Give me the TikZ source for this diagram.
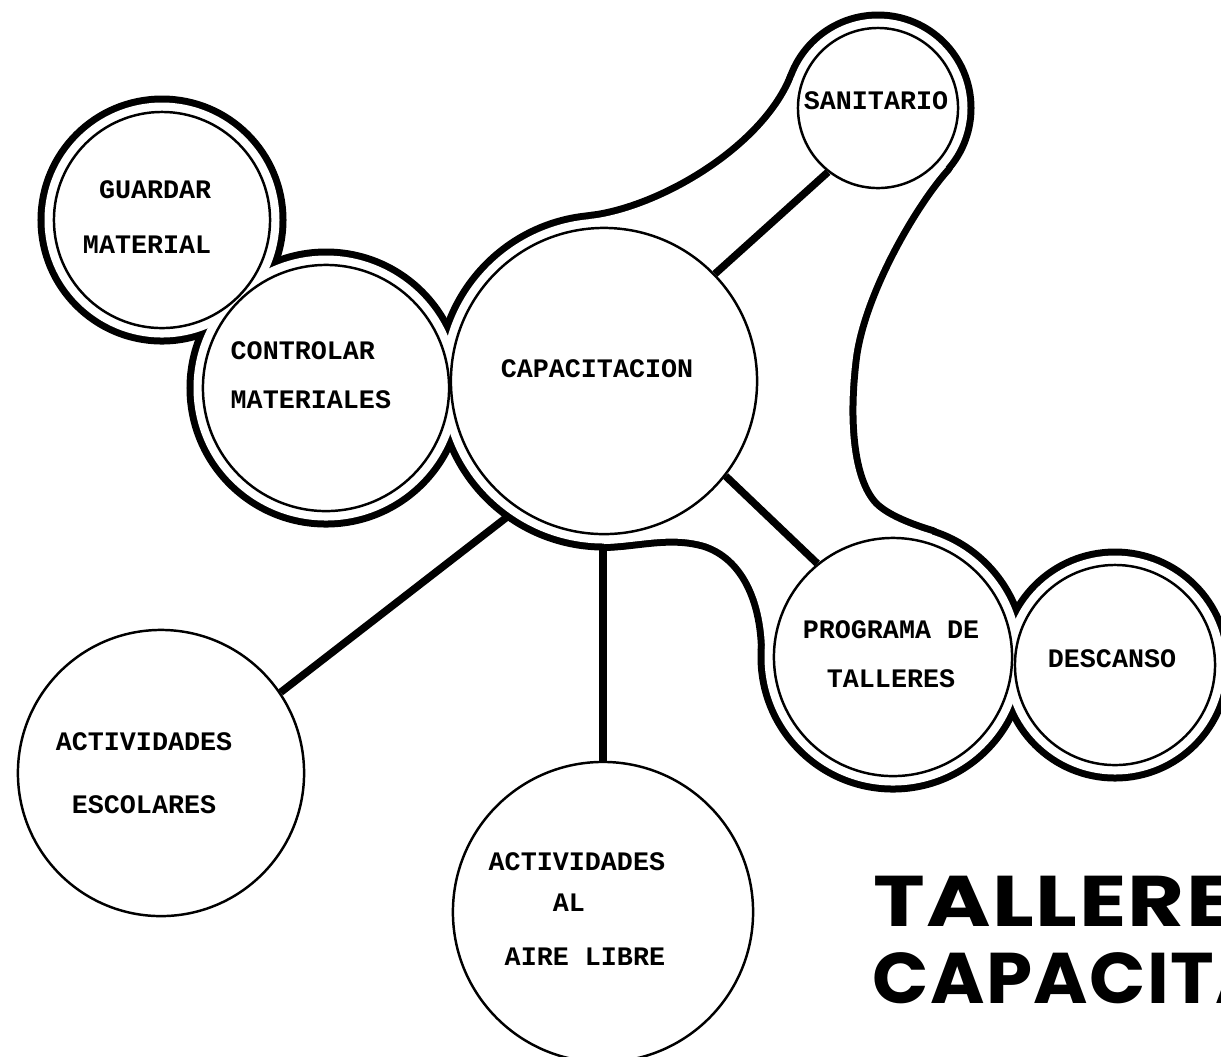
\documentclass[tikz,border=0pt]{standalone}
\usepackage{fontspec}
\usepackage{tikz}
\usetikzlibrary{positioning}
\newfontfamily\typefont{Liberation Mono}
\newfontfamily\titlefont{Poppins}

\begin{document}
\begin{tikzpicture}[x=0.01cm,y=-0.01cm,
  room/.style={circle,draw,line width=0.7pt,inner sep=0pt},
  tag/.style={inner sep=0pt,font=\typefont\bfseries\fontsize{7.6}{14}\selectfont},
  link/.style={line width=0.075cm},
  hull/.style={line width=0.14cm,line join=round},
  title/.style={inner sep=0pt,font=\titlefont\bfseries\fontsize{20.4}{24}\selectfont}]
\useasboundingbox (0,0) rectangle (1221,1056);
% Centres
\coordinate (gua0) at (162,220);
\coordinate (con0) at (326,388);
\coordinate (cap0) at (604,381);
\coordinate (san0) at (878,108);
\coordinate (pro0) at (893,657);
\coordinate (des0) at (1115,665);
% Hull (thick outline)
\draw[hull] (gua0) circle (117.5);
\draw[hull] (con0) circle (132.5);
\draw[hull] (cap0) circle (162.5);
\draw[hull] (san0) circle (89.5);
\draw[hull] (pro0) circle (128.5);
\draw[hull] (des0) circle (109.5);
\draw[hull] (604,544) -- (cap0) -- (590,219) .. controls (660,211) and (765,150) .. (794,77) -- (san0) -- (946,167) .. controls (915,201) and (862,290) .. (853,357) .. controls (845,420) and (850,480) .. (873,505) .. controls (885,518) and (912,528) .. (932,534) -- (pro0) -- (765,650) .. controls (764,600) and (745,556) .. (705,543) .. controls (670,533) and (640,543) .. (604,544) -- cycle; % bridge
\fill[white] (gua0) circle (117.5);
\fill[white] (con0) circle (132.5);
\fill[white] (cap0) circle (162.5);
\fill[white] (san0) circle (89.5);
\fill[white] (pro0) circle (128.5);
\fill[white] (des0) circle (109.5);
\fill[white] (604,544) -- (cap0) -- (590,219) .. controls (660,211) and (765,150) .. (794,77) -- (san0) -- (946,167) .. controls (915,201) and (862,290) .. (853,357) .. controls (845,420) and (850,480) .. (873,505) .. controls (885,518) and (912,528) .. (932,534) -- (pro0) -- (765,650) .. controls (764,600) and (745,556) .. (705,543) .. controls (670,533) and (640,543) .. (604,544) -- cycle; % bridge
% Rooms
\node[room,minimum size=2.16cm] (gua) at (gua0) {};
\node[room,minimum size=2.46cm] (con) at (con0) {};
\node[room,minimum size=3.06cm] (cap) at (cap0) {};
\node[room,minimum size=1.6cm] (san) at (san0) {};
\node[room,minimum size=2.38cm] (pro) at (pro0) {};
\node[room,minimum size=2.0cm] (des) at (des0) {};
\node[room,minimum size=2.86cm] (esc) at (161,773) {};
\node[room,minimum size=3.0cm] (aire) at (603,912) {};
% Labels
\node[tag,align=right,anchor=east] (guaTxt) at (212,217) {GUARDAR\\[1.7pt]MATERIAL};
\node[tag,align=left,anchor=west] (conTxt) at (230,375) {CONTROLAR\\MATERIALES};
\node[tag] (capTxt) at (597,369) {CAPACITACION};
\node[tag] (sanTxt) at (876,101) {SANITARIO};
\node[tag,align=center] (proTxt) at (891,654) {PROGRAMA DE\\TALLERES};
\node[tag] (desTxt) at (1112,659) {DESCANSO};
\node[tag,align=center] (escTxt) at (144,773) {ACTIVIDADES\\[3.9pt]ESCOLARES};
\node[tag,align=left,anchor=west] (aireTxt) at (488,909) {ACTIVIDADES\\[-2.3pt]\hspace*{2.4em}AL\\[1.1pt]\hspace*{0.6em}AIRE LIBRE};
% Links
\coordinate (escfoot) at (507,517);
\coordinate (airefoot) at (603,549);
\draw[link] (cap.44) -- (san.232);
\draw[link] (cap.-38) -- (pro.129);
\draw[link] (escfoot) -- (esc.34);
\draw[link] (airefoot) -- (aire);
% Title
\node[title,anchor=base west] (ttlA) at (873,926) {\addfontfeature{FakeStretch=1.22,LetterSpace=2}TALLERES};
\node[title,anchor=base west] (ttlB) at (872,1003) {\addfontfeature{FakeStretch=1.03,LetterSpace=2}CAPACITACION};
\end{tikzpicture}
\end{document}
